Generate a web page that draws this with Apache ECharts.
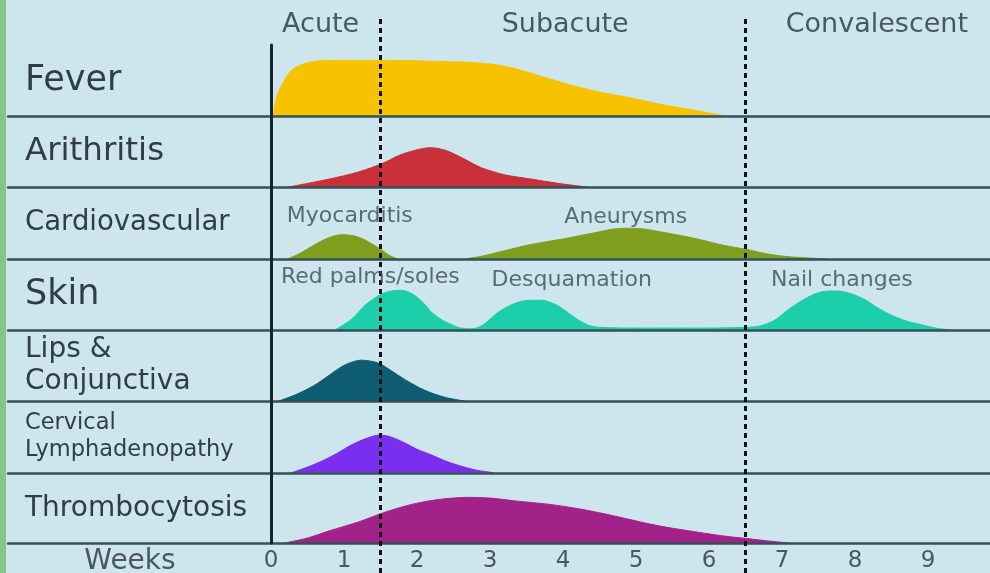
<!DOCTYPE html>
<html>
<head>
<meta charset="utf-8">
<title>Kawasaki disease clinical course</title>
<script src="https://cdn.jsdelivr.net/npm/echarts@6/dist/echarts.min.js"></script>
<style>
  html, body { margin: 0; padding: 0; background: #cde6ee; }
  #main { width: 990px; height: 573px; }
</style>
</head>
<body>
<div id="main"></div>
<script>
// rows, top to bottom
const rowNames = ['Fever', 'Arithritis', 'Cardiovascular', 'Skin', 'Lips &\nConjunctiva', 'Cervical\nLymphadenopathy', 'Thrombocytosis']
const rowFontSize = [35, 32.5, 27.5, 35, 28, 22.5, 28]
const rowLineHeight = [36, 36, 30, 36, 32, 27, 30]

// phases along the weeks axis
const phaseNames = ['Acute', 'Subacute', 'Convalescent']
const phaseLabelWeeks = [0.68, 4.03, 8.3]
const phaseBounds = [1.5, 6.5]
const weekTicks = [0, 1, 2, 3, 4, 5, 6, 7, 8, 9]

// [week, share of row height]
const fever = [[0.03, 0], [0.08, 0.28], [0.18, 0.5], [0.3, 0.66], [0.5, 0.75], [0.8, 0.785], [1.5, 0.785], [2.3, 0.77], [2.9, 0.745], [3.3, 0.68], [3.7, 0.56], [4.1, 0.44], [4.5, 0.34], [4.92, 0.26], [5.33, 0.17], [5.88, 0.07], [6.25, 0]]
const arthritis = [[0.2, 0], [0.8, 0.12], [1.2, 0.22], [1.53, 0.34], [1.75, 0.45], [2.0, 0.53], [2.18, 0.56], [2.4, 0.52], [2.65, 0.4], [2.88, 0.28], [3.2, 0.18], [3.56, 0.12], [4.0, 0.05], [4.4, 0]]
const myocarditis = [[0.23, 0], [0.4, 0.08], [0.6, 0.2], [0.8, 0.3], [0.97, 0.34], [1.15, 0.32], [1.28, 0.27], [1.4, 0.2], [1.51, 0.13], [1.62, 0.05], [1.73, 0]]
const aneurysms = [[2.66, 0], [2.9, 0.04], [3.14, 0.1], [3.55, 0.2], [4.0, 0.28], [4.3, 0.34], [4.5, 0.38], [4.7, 0.42], [4.9, 0.43], [5.1, 0.42], [5.33, 0.38], [5.6, 0.33], [5.88, 0.27], [6.2, 0.19], [6.53, 0.13], [6.8, 0.07], [7.1, 0.03], [7.62, 0]]
const skin = [[0.87, 0], [1.1, 0.15], [1.29, 0.35], [1.5, 0.5], [1.65, 0.55], [1.79, 0.56], [1.95, 0.5], [2.1, 0.37], [2.2, 0.25], [2.35, 0.14], [2.47, 0.08], [2.6, 0.03], [2.75, 0.02], [2.9, 0.07], [3.11, 0.25], [3.35, 0.38], [3.55, 0.42], [3.7, 0.42], [3.9, 0.36], [4.05, 0.26], [4.2, 0.15], [4.35, 0.07], [4.5, 0.04], [5.0, 0.03], [6.0, 0.03], [6.5, 0.04], [6.7, 0.06], [6.9, 0.14], [7.1, 0.3], [7.35, 0.46], [7.55, 0.54], [7.75, 0.55], [7.95, 0.51], [8.15, 0.42], [8.3, 0.32], [8.48, 0.22], [8.7, 0.13], [8.9, 0.08], [9.1, 0.03], [9.34, 0]]
const lips = [[0.09, 0], [0.35, 0.1], [0.6, 0.23], [0.8, 0.37], [0.91, 0.45], [1.05, 0.53], [1.24, 0.58], [1.4, 0.56], [1.51, 0.52], [1.65, 0.43], [1.83, 0.31], [2.1, 0.16], [2.38, 0.06], [2.69, 0]]
const cervical = [[0.28, 0], [0.5, 0.08], [0.73, 0.18], [0.9, 0.27], [1.1, 0.39], [1.3, 0.48], [1.49, 0.53], [1.65, 0.5], [1.83, 0.42], [2.0, 0.33], [2.2, 0.25], [2.38, 0.17], [2.55, 0.11], [2.8, 0.04], [3.06, 0]]
const thrombo = [[0.19, 0], [0.5, 0.07], [0.82, 0.18], [1.2, 0.3], [1.51, 0.42], [1.75, 0.5], [1.97, 0.56], [2.3, 0.62], [2.7, 0.65], [3.0, 0.64], [3.34, 0.6], [3.82, 0.55], [4.2, 0.49], [4.5, 0.43], [4.85, 0.35], [5.19, 0.27], [5.5, 0.21], [5.87, 0.15], [6.2, 0.1], [6.55, 0.06], [6.8, 0.03], [7.1, 0]]

const areas = [
  { row: 0, data: fever, color: '#f7c300' },
  { row: 1, data: arthritis, color: '#c8303a' },
  { row: 2, data: myocarditis, color: '#7f9e1e' },
  { row: 2, data: aneurysms, color: '#7f9e1e' },
  { row: 3, data: skin, color: '#1dceaa' },
  { row: 4, data: lips, color: '#0e5d71' },
  { row: 5, data: cervical, color: '#7a2ef0' },
  { row: 6, data: thrombo, color: '#a3228a' }
]

// text inside rows
const notes = [
  { row: 2, text: 'Myocarditis', week: 1.08, level: 0.6 },
  { row: 2, text: 'Aneurysms', week: 4.86, level: 0.58 },
  { row: 3, text: 'Red palms/soles', week: 1.36, level: 0.74 },
  { row: 3, text: 'Desquamation', week: 4.12, level: 0.7 },
  { row: 3, text: 'Nail changes', week: 7.82, level: 0.7 }
]

const FONT = '"DejaVu Sans", sans-serif'
const ROW_TOP = 45
const ROW_H = 71.3
const GRID_LEFT = 8
const XMIN = -(271 - GRID_LEFT) / 73
const XMAX = (990 - 271) / 73
const last = rowNames.length - 1

const grids = []
const xAxes = []
const yAxes = []
const series = []
const graphics = [
  { type: 'rect', shape: { x: 0, y: 0, width: 6, height: 573 }, style: { fill: '#84c683' } }
]

rowNames.forEach((name, i) => {
  grids.push({ left: GRID_LEFT, right: 0, top: ROW_TOP + i * ROW_H, height: ROW_H })
  xAxes.push({
    type: 'value', gridIndex: i, min: XMIN, max: XMAX, z: 3,
    axisLine: { lineStyle: { color: '#34505a', width: 2.5 } },
    axisTick: { show: false },
    splitLine: { show: false },
    axisLabel: i === last
      ? { customValues: weekTicks, fontSize: 23, color: '#4a585e', fontFamily: FONT, margin: 7 }
      : { show: false }
  })
  yAxes.push({
    type: 'value', gridIndex: i, min: 0, max: 1, z: 4,
    axisLine: { show: true, lineStyle: { color: '#17252b', width: 3 } },
    axisTick: { show: false },
    axisLabel: { show: false },
    splitLine: { show: false }
  })
  graphics.push({
    type: 'text', x: 25, y: ROW_TOP + i * ROW_H + ROW_H / 2,
    style: {
      text: name, fill: '#303e44', fontSize: rowFontSize[i], fontFamily: FONT,
      lineHeight: rowLineHeight[i], verticalAlign: 'middle'
    }
  })
})

areas.forEach(a => {
  series.push({
    type: 'line', xAxisIndex: a.row, yAxisIndex: a.row,
    data: a.data, smooth: 0.3, symbol: 'none',
    lineStyle: { color: a.color, width: 1 },
    areaStyle: { color: a.color, opacity: 1 },
    z: 2
  })
})

notes.forEach(n => {
  series.push({
    type: 'scatter', xAxisIndex: n.row, yAxisIndex: n.row,
    symbolSize: 1, itemStyle: { color: 'transparent' },
    data: [{ value: [n.week, n.level], name: n.text }],
    label: { show: true, position: 'inside', formatter: '{b}', fontSize: 22, color: '#3c4b52', fontFamily: FONT },
    z: 5
  })
})

// overlay grid for phase markers
grids.push({ left: GRID_LEFT, right: 0, top: 18, bottom: 0 })
xAxes.push({ type: 'value', gridIndex: rowNames.length, min: XMIN, max: XMAX, show: false })
yAxes.push({ type: 'value', gridIndex: rowNames.length, min: 0, max: 1, show: false })
series.push({
  type: 'scatter', xAxisIndex: rowNames.length, yAxisIndex: rowNames.length,
  symbolSize: 1, itemStyle: { color: 'transparent' },
  data: phaseNames.map((p, k) => ({ value: [phaseLabelWeeks[k], 1], name: p })),
  label: { show: true, position: 'inside', offset: [0, 7], formatter: '{b}', fontSize: 27, color: '#26353c', fontFamily: FONT },
  markLine: {
    silent: true, symbol: 'none', label: { show: false },
    lineStyle: { color: '#111', type: [5, 4], width: 3 },
    data: phaseBounds.map(w => ({ xAxis: w }))
  },
  z: 6
})

graphics.push({
  type: 'text', x: 130, y: 562,
  style: { text: 'Weeks', fill: '#4a585e', fontSize: 28, fontFamily: FONT, align: 'center', verticalAlign: 'middle' }
})

const chart = echarts.init(document.getElementById('main'))
chart.setOption({
  backgroundColor: '#cde6ee',
  animation: false,
  grid: grids,
  xAxis: xAxes,
  yAxis: yAxes,
  series: series,
  graphic: graphics
})
</script>
</body>
</html>
